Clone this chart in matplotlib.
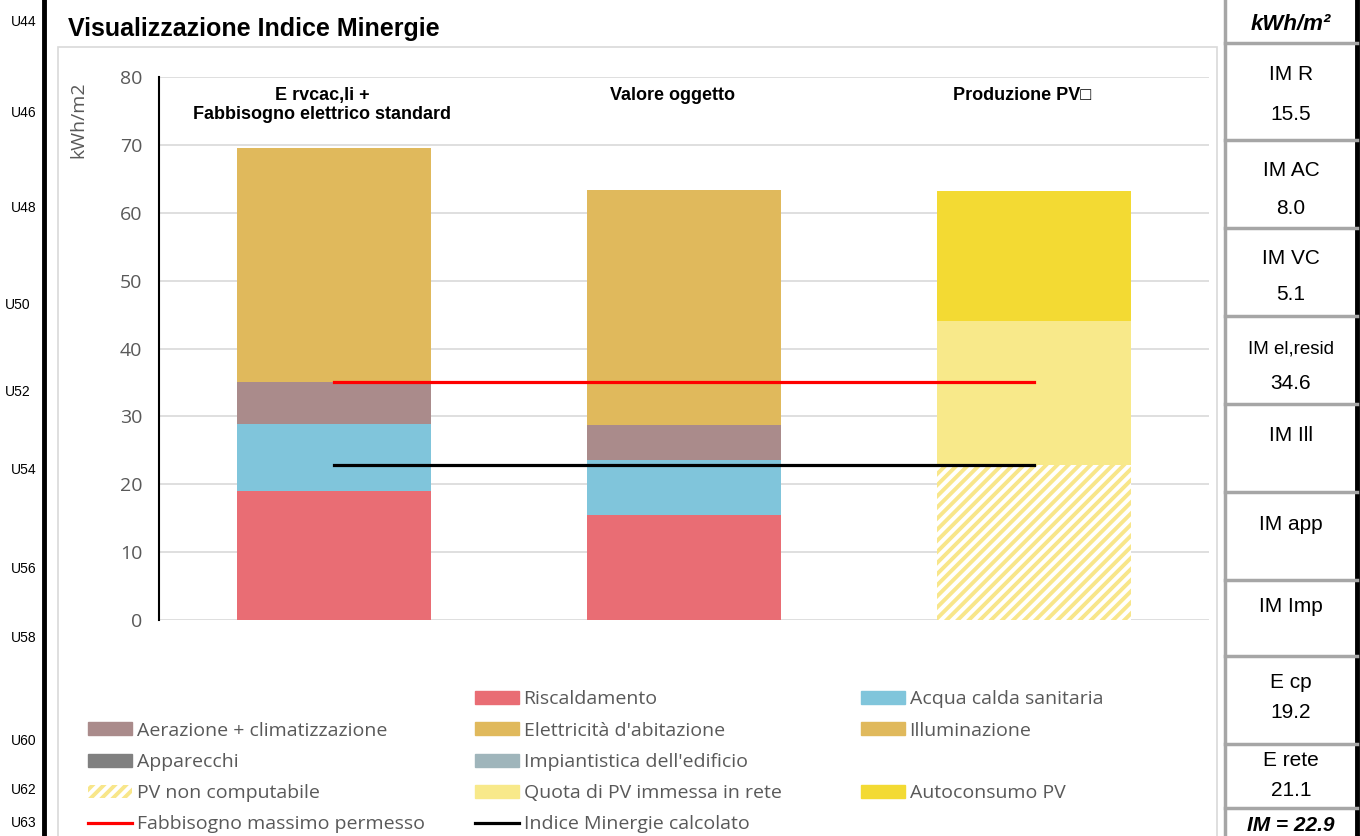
import matplotlib.pyplot as plt
from matplotlib.patches import Patch, Rectangle
from matplotlib.lines import Line2D
from matplotlib.transforms import offset_copy

# --- data ---
categories = ["E rvcac,li +\nFabbisogno elettrico standard", "Valore oggetto", "Produzione PV\u25a1"]
riscaldamento = [19.0, 15.5, 0.0]
acquaCalda = [9.9, 8.0, 0.0]
impiantistica = [0.0, 0.1, 0.0]
aerazione = [6.1, 5.1, 0.0]
apparecchi = [0.0, 0.0, 0.0]
illuminazione = [0.0, 0.0, 0.0]
elettricita = [34.5, 34.6, 0.0]
pvNonComputabile = [0.0, 0.0, 22.9]
pvInRete = [0.0, 0.0, 21.1]
pvAutoconsumo = [0.0, 0.0, 19.2]
fabbisognoMassimo = 35.0
indiceMinergie = 22.9
yTicks = [0, 10, 20, 30, 40, 50, 60, 70, 80]

tableHeader = "kWh/m\u00b2"
tableLabels = ["IM R", "IM AC", "IM VC", "IM el,resid", "IM Ill", "IM app", "IM Imp", "E cp", "E rete"]
tableValues = ["15.5", "8.0", "5.1", "34.6", "", "", "", "19.2", "21.1"]
tableTotal = "IM = 22.9"
rowNames = ["U44", "U46", "U48", "U50", "U52", "U54", "U56", "U58", "U60", "U62", "U63"]

# --- layout (pixels of the 1360x836 picture) ---
W, H = 1360, 836
rowY = [22, 113, 208, 305, 392, 470, 569, 638, 741, 790, 823]
rowLeftAligned = ["U50", "U52"]
cellLines = [43, 140, 228, 316, 404, 492, 580, 656, 744, 808]
labelY = [75, 171, 259, 349, 436, 524, 606, 682, 760]
valueY = [114, 208, 295, 384, 0, 0, 0, 713, 790]

GRAY_TEXT = "#595959"
ARIAL = ["Liberation Sans", "DejaVu Sans"]
CALIBRI = ["Open Sans", "DejaVu Sans"]
HATCH_YELLOW = "#f8e68a"

plt.rcParams["hatch.linewidth"] = 2.8


def fx(x):
    return x / W


def fy(y):
    return 1 - y / H


def drawSheet(fig):
    # spreadsheet row names on the left
    for name, y in zip(rowNames, rowY):
        if name in rowLeftAligned:
            fig.text(fx(5), fy(y), name, ha="left", va="center", fontsize=10, family=ARIAL)
        else:
            fig.text(fx(37), fy(y), name, ha="right", va="center", fontsize=10, family=ARIAL)
    fig.add_artist(Line2D([fx(44), fx(44)], [0, 1], color="black", lw=3.5))
    # chart area border
    fig.add_artist(Rectangle((fx(58), -0.01), fx(1217 - 58), fy(47) + 0.01, fill=False,
                             edgecolor="#d9d9d9", lw=1.2))
    fig.text(fx(68), fy(29), "Visualizzazione Indice Minergie", ha="left", va="center",
             fontsize=18, fontweight="bold", family=ARIAL)
    fig.text(fx(78), fy(120), "kWh/m2", rotation=90, ha="center", va="center",
             fontsize=14, color=GRAY_TEXT, family=CALIBRI)


def drawTable(fig):
    fig.add_artist(Line2D([fx(1225), fx(1225)], [0, 1], color="#a6a6a6", lw=2.5))
    fig.add_artist(Line2D([fx(1357), fx(1357)], [0, 1], color="black", lw=3.5))
    for y in cellLines:
        fig.add_artist(Line2D([fx(1225), fx(1357)], [fy(y), fy(y)], color="#a6a6a6", lw=2.5))
    xc = fx(1291)
    fig.text(xc, fy(25), tableHeader, ha="center", va="center", fontsize=16,
             fontweight="bold", fontstyle="italic", family=ARIAL)
    for lab, val, ly, vy in zip(tableLabels, tableValues, labelY, valueY):
        size = 13.5 if len(lab) > 8 else 15
        fig.text(xc, fy(ly), lab, ha="center", va="center", fontsize=size, family=ARIAL)
        if val:
            fig.text(xc, fy(vy), val, ha="center", va="center", fontsize=15, family=ARIAL)
    fig.text(xc, fy(835), tableTotal, ha="center", va="bottom", fontsize=15,
             fontweight="bold", fontstyle="italic", family=ARIAL)


def drawChart(fig):
    ax = fig.add_axes([fx(159), fy(620), fx(1209 - 159), fy(77) - fy(620)])
    x = list(range(len(categories)))
    series = [
        (riscaldamento, "#e96d74", None),
        (acquaCalda, "#80c5db", None),
        (impiantistica, "#9fb5bb", None),
        (aerazione, "#aa8b8b", None),
        (apparecchi, "#808080", None),
        (illuminazione, "#e0b95c", None),
        (elettricita, "#e0b95c", None),
        (pvNonComputabile, "white", "///"),
        (pvInRete, "#f8e98a", None),
        (pvAutoconsumo, "#f3da33", None),
    ]
    bottom = [0.0] * len(categories)
    for values, color, hatch in series:
        if hatch:
            ax.bar(x, values, 0.555, bottom=bottom, color=color, edgecolor=HATCH_YELLOW,
                   hatch=hatch, lw=0, zorder=2)
        else:
            ax.bar(x, values, 0.555, bottom=bottom, color=color, lw=0, zorder=2)
        bottom = [b + v for b, v in zip(bottom, values)]

    ax.plot([x[0], x[-1]], [fabbisognoMassimo] * 2, color="#ff0000", lw=2.3, zorder=3)
    ax.plot([x[0], x[-1]], [indiceMinergie] * 2, color="black", lw=2.3, zorder=3)

    # category titles sit a little left of the bar centres
    shifted = offset_copy(ax.transData, fig=fig, x=-12, y=0, units="dots")
    for i, cat in enumerate(categories):
        ax.text(i, 78.6, cat, ha="center", va="top", fontsize=13, fontweight="bold",
                family=ARIAL, linespacing=1.2, transform=shifted)

    ax.set_xlim(-0.5, 2.5)
    ax.set_ylim(0, 80)
    ax.set_yticks(yTicks)
    ax.set_xticks([])
    ax.tick_params(axis="y", length=0, pad=12, labelsize=14, labelcolor=GRAY_TEXT)
    for lab in ax.get_yticklabels():
        lab.set_family(CALIBRI)
    ax.yaxis.grid(True, color="#d9d9d9", lw=1.2)
    ax.set_axisbelow(True)
    for side in ["top", "right", "bottom"]:
        ax.spines[side].set_visible(False)
    ax.spines["left"].set_color("black")
    ax.spines["left"].set_linewidth(1.5)
    ax.set_facecolor("none")


def drawLegend(fig):
    blank = Patch(facecolor="none", edgecolor="none")
    hatched = Patch(facecolor="white", edgecolor=HATCH_YELLOW, hatch="///", lw=0)
    columns = [
        (88, [blank, Patch(color="#aa8b8b"), Patch(color="#808080"), hatched,
              Line2D([], [], color="#ff0000", lw=2.3)],
         [" ", "Aerazione + climatizzazione", "Apparecchi", "PV non computabile",
          "Fabbisogno massimo permesso"]),
        (475, [Patch(color="#e96d74"), Patch(color="#e0b95c"), Patch(color="#9fb5bb"),
               Patch(color="#f8e98a"), Line2D([], [], color="black", lw=2.3)],
         ["Riscaldamento", "Elettricit\u00e0 d'abitazione", "Impiantistica dell'edificio",
          "Quota di PV immessa in rete", "Indice Minergie calcolato"]),
        (861, [Patch(color="#80c5db"), Patch(color="#e0b95c"), blank, Patch(color="#f3da33")],
         ["Acqua calda sanitaria", "Illuminazione", " ", "Autoconsumo PV"]),
    ]
    for left, handles, labels in columns:
        fig.legend(handles, labels, loc="upper left", bbox_to_anchor=(fx(left), fy(690.5)),
                   frameon=False, borderpad=0, borderaxespad=0, handlelength=2.25,
                   handleheight=0.65, handletextpad=0.25, labelspacing=0.68,
                   prop={"family": CALIBRI, "size": 14}, labelcolor=GRAY_TEXT)


def main():
    fig = plt.figure(figsize=(W / 100, H / 100), dpi=100)
    drawSheet(fig)
    drawChart(fig)
    drawTable(fig)
    drawLegend(fig)
    fig.savefig("out.png", dpi=100)


if __name__ == "__main__":
    main()
